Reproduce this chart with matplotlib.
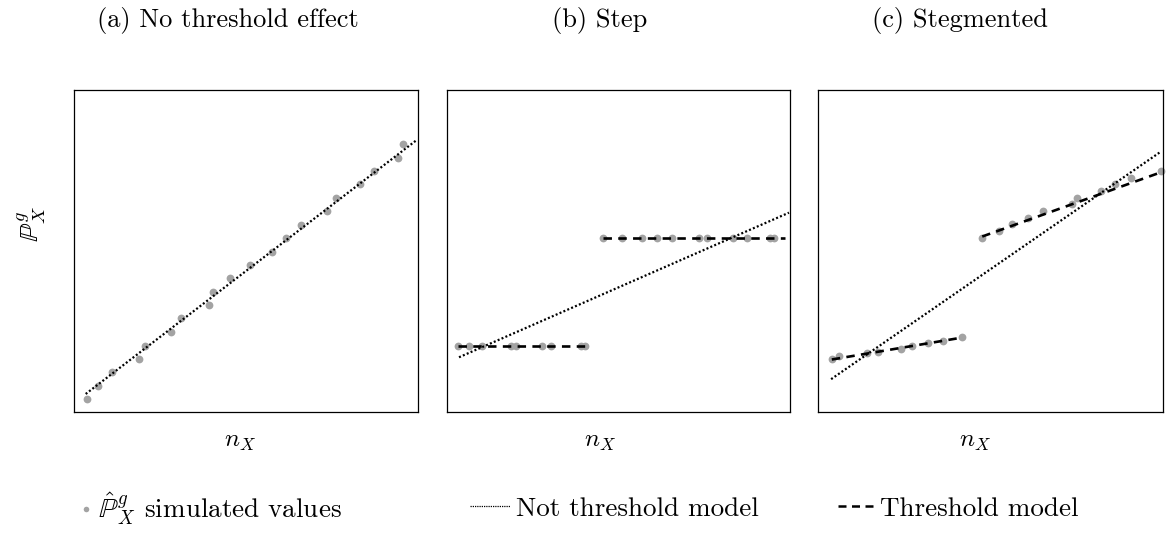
import numpy as np
import matplotlib
matplotlib.use("Agg")
import matplotlib.pyplot as plt
from matplotlib.lines import Line2D

plt.rcParams['font.family'] = 'serif'
plt.rcParams['font.serif'] = ['cmr10']
plt.rcParams['mathtext.fontset'] = 'cm'
plt.rcParams['axes.formatter.use_mathtext'] = True

titles = ['(a) No threshold effect', '(b) Step', '(c) Stegmented']

# (a) no threshold effect
nx_a = [3.9, 6.9, 11.0, 18.9, 20.6, 28.1, 31.0, 39.3, 40.3, 45.4,
        51.2, 57.5, 61.7, 65.9, 73.5, 76.1, 83.2, 87.3, 94.1, 95.7]
p_a = [0.039, 0.081, 0.123, 0.165, 0.206, 0.248, 0.291, 0.331, 0.373, 0.415,
       0.456, 0.498, 0.539, 0.582, 0.623, 0.666, 0.707, 0.748, 0.790, 0.831]
lin_x_a = [3.4, 99.3]
lin_y_a = [0.056, 0.842]

# (b) step
nx_b = [3.3, 6.4, 10.3, 18.6, 20.0, 27.6, 30.3, 39.1, 40.3, 45.4,
        50.9, 56.8, 61.1, 65.5, 73.6, 75.7, 83.3, 87.6, 94.2, 95.4]
p_b = [0.206] * 9 + [0.539] * 11
lin_x_b = [3.5, 99.7]
lin_y_b = [0.170, 0.619]
thr_b = [([3.3, 40.7], [0.206, 0.206]), ([45.4, 98.5], [0.539, 0.539])]

# (c) stegmented
nx_c = [4.0, 6.1, 14.1, 17.5, 24.1, 27.2, 32.0, 36.3, 41.7,
        47.6, 52.5, 56.2, 61.0, 65.3, 73.5, 75.0, 81.9, 86.1, 90.6, 99.3]
p_c = [0.165, 0.174, 0.182, 0.187, 0.197, 0.206, 0.213, 0.220, 0.232,
       0.541, 0.562, 0.583, 0.603, 0.624, 0.645, 0.666, 0.686, 0.707, 0.728, 0.748]
lin_x_c = [3.8, 99.3]
lin_y_c = [0.102, 0.808]
thr_c = [([4.0, 41.7], [0.163, 0.231]), ([47.6, 98.5], [0.545, 0.741])]

grey = '#a3a3a3'
dot_style = (0, (0.9, 1.0))
dash_style = (0, (3.2, 2.4))

fig = plt.figure(figsize=(11.66, 5.33), dpi=100)
W, H = 1166, 533
lefts = [74, 447, 818]
widths = [344, 343, 345]
axes = []
for l, w in zip(lefts, widths):
    axes.append(fig.add_axes([l / W, (H - 412) / H, w / W, 322 / H]))

data = [(nx_a, p_a, lin_x_a, lin_y_a, []),
        (nx_b, p_b, lin_x_b, lin_y_b, thr_b),
        (nx_c, p_c, lin_x_c, lin_y_c, thr_c)]

title_x = [0.448, 0.446, 0.412]
xlab_x = [0.483, 0.446, 0.455]
for ax, (x, y, lx, ly, thr), t, tx, xx in zip(axes, data, titles, title_x, xlab_x):
    ax.plot(x, y, 'o', color=grey, ms=5.6, mec='none', zorder=2, clip_on=False)
    ax.plot(lx, ly, color='black', lw=1.6, linestyle=dot_style, zorder=3)
    for sx, sy in thr:
        ax.plot(sx, sy, color='black', lw=1.9, linestyle=dash_style, zorder=3)
    ax.set_xlim(0, 100)
    ax.set_ylim(0, 1)
    ax.set_xticks([])
    ax.set_yticks([])
    for s in ax.spines.values():
        s.set_linewidth(0.9)
    ax.set_title(t, x=tx, y=1.0, pad=45, fontsize=19)
    ax.set_xlabel('$n_X$', fontsize=18)
    ax.xaxis.set_label_coords(xx, -0.06)

axes[0].set_ylabel(r'$\mathbb{P}^g_X$', fontsize=19)
axes[0].yaxis.set_label_coords(-0.075, 0.585)

# legend
fs = 19.5
h1 = Line2D([], [], marker='o', color=grey, ls='none', ms=4, mec='none')
h2 = Line2D([], [], color='black', lw=0.9, linestyle=(0, (1, 0.8)))
h3 = Line2D([], [], color='black', lw=1.8, linestyle=(0, (3.2, 2.2)))
fig.legend([h1], [r'$\hat{\mathbb{P}}^g_X$ simulated values'], loc='center left',
           bbox_to_anchor=(79 / W, 1 - 509 / H), frameon=False, fontsize=fs,
           handlelength=0.5, handletextpad=0.2, borderpad=0, borderaxespad=0)
fig.legend([h2], ['Not threshold model'], loc='center left',
           bbox_to_anchor=(470 / W, 1 - 509 / H), frameon=False, fontsize=fs,
           handlelength=1.48, handletextpad=0.2, borderpad=0, borderaxespad=0)
fig.legend([h3], ['Threshold model'], loc='center left',
           bbox_to_anchor=(838 / W, 1 - 509 / H), frameon=False, fontsize=fs,
           handlelength=1.3, handletextpad=0.25, borderpad=0, borderaxespad=0)

fig.savefig('out.png', dpi=100)
